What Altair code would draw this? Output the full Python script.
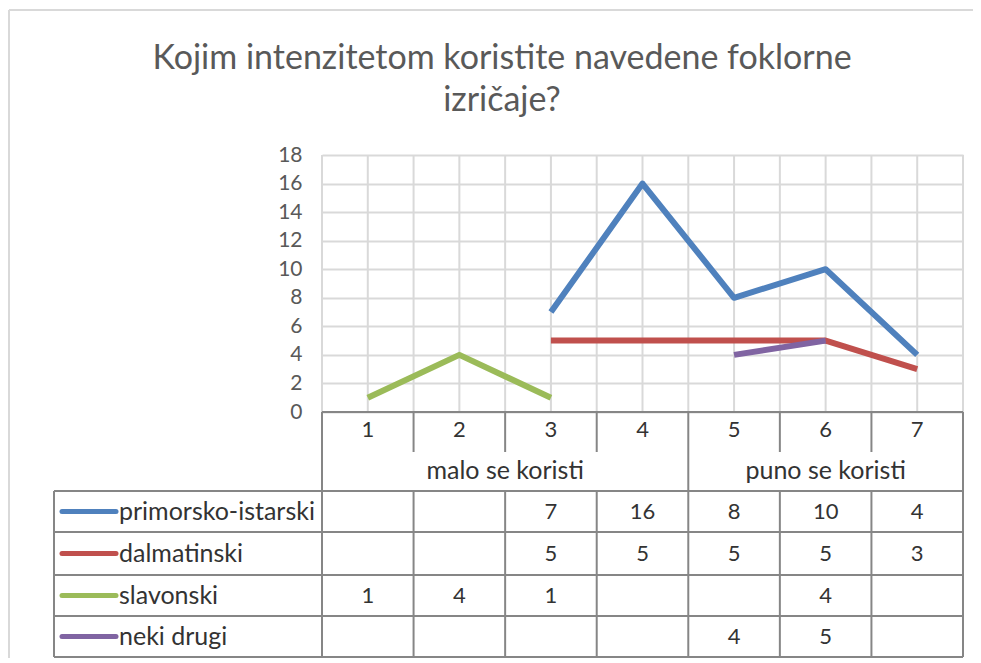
import altair as alt
import pandas as pd

# ---------------- data ----------------
categories = [1, 2, 3, 4, 5, 6, 7]
groups = ["malo se koristi"] * 4 + ["puno se koristi"] * 3
series_names = ["primorsko-istarski", "dalmatinski", "slavonski", "neki drugi"]
primorsko_istarski = [None, None, 7, 16, 8, 10, 4]
dalmatinski = [None, None, 5, 5, 5, 5, 3]
slavonski = [1, 4, 1, None, None, 4, None]
neki_drugi = [None, None, None, None, 4, 5, None]
series_values = [primorsko_istarski, dalmatinski, slavonski, neki_drugi]
colors = ["#4F81BD", "#C0504D", "#9BBB59", "#8064A2"]
y_ticks = list(range(0, 19, 2))
title_lines = ["Kojim intenzitetom koristite navedene foklorne", "izričaje?"]

# ---------------- tables built from the arrays ----------------
rows = []
for name, vals in zip(series_names, series_values):
    seg = 0
    for c, v in zip(categories, vals):
        if v is None:
            seg += 1
        rows.append({"category": c, "series": name, "value": v, "seg": f"{name}-{seg}"})
long_df = pd.DataFrame(rows)
line_df = long_df.dropna(subset=["value"])

cat_df = pd.DataFrame({"category": categories, "group": groups})
grp_rows = []
for g in dict.fromkeys(groups):
    cs = [c for c, gg in zip(categories, groups) if gg == g]
    grp_rows.append({"group": g, "center": sum(cs) / len(cs), "first": min(cs), "last": max(cs)})
group_df = pd.DataFrame(grp_rows)

boundaries = [c - 0.5 for c in categories] + [categories[-1] + 0.5]
half_steps = sorted(set(boundaries + categories))
group_edges = sorted(set([g - 0.5 for g in group_df["first"]] + [g + 0.5 for g in group_df["last"]]))
inner_edges = [b for b in boundaries if b not in group_edges]

# ---------------- layout / style ----------------
FONT = "Lato"
W, H = 641, 257
GRID = "#D9D9D9"
BORDER = "#868686"
TXT = "#333333"
NUM_SIZE = 22
WORD_SIZE = 25
xs = alt.Scale(domain=[boundaries[0], boundaries[-1]], nice=False, zero=False)

cat_row_bottom = 297
group_row_bottom = 336
data_lines = [336, 377, 420, 461, 502]
row_centers = [(a + b) / 2 for a, b in zip(data_lines[:-1], data_lines[1:])]
legend_left = -268

dummy = alt.Chart(pd.DataFrame({"d": [0]}))

grid_layer = alt.Chart(pd.DataFrame({"h": half_steps})).mark_rule(
    color=GRID, strokeWidth=2
).encode(
    x=alt.X("h:Q", scale=xs, axis=None),
    y=alt.value(0),
    y2=alt.value(H),
)

lines = alt.Chart(line_df).mark_line(strokeWidth=6, strokeJoin="round").encode(
    x=alt.X("category:Q", scale=xs, axis=None),
    y=alt.Y(
        "value:Q",
        scale=alt.Scale(domain=[0, 18], nice=False),
        axis=alt.Axis(
            values=y_ticks,
            title=None,
            grid=True,
            gridColor=GRID,
            gridWidth=2,
            domain=False,
            ticks=False,
            labelPadding=20,
            labelFont=FONT,
            labelFontSize=21,
            labelColor="#595959",
        ),
    ),
    color=alt.Color("series:N", scale=alt.Scale(domain=series_names, range=colors), legend=None),
    detail="seg:N",
)

layers = [grid_layer, lines]

layers.append(dummy.mark_rule(color=BORDER, strokeWidth=2).encode(
    x=alt.value(0), x2=alt.value(W), y=alt.value(H)))

layers.append(alt.Chart(pd.DataFrame({"b": inner_edges})).mark_rule(color=BORDER, strokeWidth=2).encode(
    x=alt.X("b:Q", scale=xs, axis=None), y=alt.value(H), y2=alt.value(cat_row_bottom)))
layers.append(alt.Chart(pd.DataFrame({"b": group_edges})).mark_rule(color=BORDER, strokeWidth=2).encode(
    x=alt.X("b:Q", scale=xs, axis=None), y=alt.value(H), y2=alt.value(group_row_bottom)))
layers.append(alt.Chart(pd.DataFrame({"b": boundaries})).mark_rule(color=BORDER, strokeWidth=2).encode(
    x=alt.X("b:Q", scale=xs, axis=None), y=alt.value(data_lines[0]), y2=alt.value(data_lines[-1])))
layers.append(dummy.mark_rule(color=BORDER, strokeWidth=2).encode(
    x=alt.value(legend_left), y=alt.value(data_lines[0]), y2=alt.value(data_lines[-1])))
for yl in data_lines:
    layers.append(dummy.mark_rule(color=BORDER, strokeWidth=2).encode(
        x=alt.value(legend_left), x2=alt.value(W), y=alt.value(yl)))

layers.append(alt.Chart(cat_df).mark_text(font=FONT, fontSize=NUM_SIZE, color=TXT, baseline="middle").encode(
    x=alt.X("category:Q", scale=xs, axis=None), y=alt.value((H + cat_row_bottom) / 2 - 2),
    text="category:N"))
layers.append(alt.Chart(group_df).mark_text(font=FONT, fontSize=WORD_SIZE, color=TXT, baseline="middle").encode(
    x=alt.X("center:Q", scale=xs, axis=None), y=alt.value((cat_row_bottom + group_row_bottom) / 2 - 1),
    text="group:N"))

for i, name in enumerate(series_names):
    sub = line_df[line_df["series"] == name].copy()
    sub["label"] = sub["value"].map(lambda v: f"{v:g}")
    layers.append(alt.Chart(sub).mark_text(font=FONT, fontSize=NUM_SIZE, color=TXT, baseline="middle").encode(
        x=alt.X("category:Q", scale=xs, axis=None), y=alt.value(row_centers[i]), text="label:N"))
    layers.append(dummy.mark_rule(color=colors[i], strokeWidth=5, strokeCap="round").encode(
        x=alt.value(legend_left + 8), x2=alt.value(legend_left + 62), y=alt.value(row_centers[i])))
    layers.append(dummy.mark_text(font=FONT, fontSize=WORD_SIZE, color=TXT, baseline="middle", align="left",
                                  text=name).encode(
        x=alt.value(legend_left + 65), y=alt.value(row_centers[i])))

layers.append(dummy.mark_rule(color=GRID, strokeWidth=2).encode(
    x=alt.value(-313), x2=alt.value(W + 10), y=alt.value(-145)))
layers.append(dummy.mark_rule(color=GRID, strokeWidth=2).encode(
    x=alt.value(-313), y=alt.value(-145), y2=alt.value(data_lines[-1] + 2)))

layers.append(dummy.mark_text(font=FONT, fontSize=34, color="#595959", align="center",
                              baseline="alphabetic", lineHeight=42, text=title_lines).encode(
    x=alt.value(180), y=alt.value(-86)))

chart = alt.layer(*layers).properties(
    width=W,
    height=H,
    autosize=alt.AutoSizeParams(type="none"),
    padding={"left": 314, "top": 147, "right": 10, "bottom": 246},
    background="white",
).configure_view(stroke=None)

chart.save("out.html", embed_options={"renderer": "svg", "actions": False})
